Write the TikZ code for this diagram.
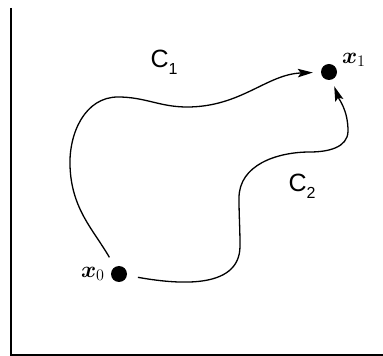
\documentclass[tikz,border=0pt]{standalone}
\usepackage{fix-cm}
\usepackage{amsmath,amssymb}
\usepackage{fontspec}
\setsansfont{Liberation Sans}
\usepackage{tikz}
\usetikzlibrary{arrows.meta,positioning}
\newcommand{\pathlabel}[2]{{\sffamily\fontsize{25}{30}\selectfont #1\raisebox{-7pt}{\fontsize{16}{16}\selectfont #2}}}

\begin{document}
\begin{tikzpicture}[x=1pt,y=1pt,
  dot/.style={circle,fill=black,inner sep=0pt,minimum size=16pt},
  ptlabel/.style={inner sep=1pt,font=\fontsize{23}{28}\selectfont},
  curve/.style={line width=1.3pt,-{Stealth[length=15pt,width=8.5pt,inset=3pt]},shorten <=11pt,shorten >=8pt}]
\useasboundingbox (0,0) rectangle (383,356);
\draw[line width=1.4pt] (11,348) |- (383,1);
\node[dot] (x0) at (119,82) {};
\node[dot] (x1) at (329,284) {};
\node[ptlabel,left=5pt of x0] (x0lab) {$\boldsymbol{x}_0$};
\node[ptlabel,above right=-2pt and 6pt of x1] (x1lab) {$\boldsymbol{x}_1$};
\node (c1) at (164,294) {\pathlabel{C}{1}};
\node (c2) at (302,170) {\pathlabel{C}{2}};
\draw[curve] (x0) to[out=120,in=-88] (70,190) to[out=92,in=180] (118,259)
  to[out=0,in=180] (187,249) to[out=0,in=182] (x1);
\draw[curve,shorten >=7pt] (x0) to[out=-10,in=-90] (240,110) to[out=90,in=-90] (239,158)
  to[out=90,in=180] (310,204) to[out=0,in=-90] (348,225) to[out=90,in=-70] (x1);
\end{tikzpicture}
\end{document}
